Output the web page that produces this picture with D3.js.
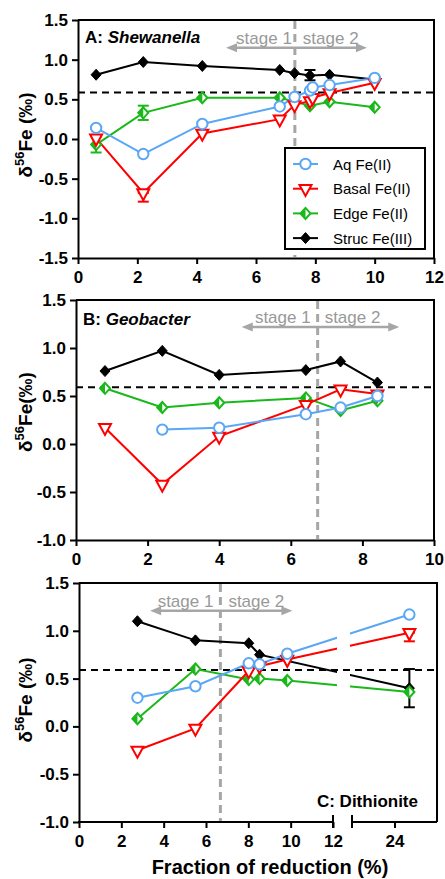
<!DOCTYPE html>
<html><head><meta charset="utf-8">
<script src="https://cdn.jsdelivr.net/npm/d3@7"></script>
<style>body{margin:0;background:#fff} text{font-family:"Liberation Sans",Arial,sans-serif}</style>
</head><body>
<svg id="c" width="445" height="879"></svg>
<script>
// ---------- DATA ----------
const seriesNames = ["Aq Fe(II)", "Basal Fe(II)", "Edge Fe(II)", "Struc Fe(III)"];

// Panel A: Shewanella
const shewAq    = [[0.61,0.14],[2.2,-0.19],[4.19,0.19],[6.8,0.41],[7.3,0.53],[7.82,0.61],[7.91,0.65],[8.48,0.68],[10.0,0.77]];
const shewBasal = [[0.61,0.01],[2.2,-0.68],[4.19,0.07],[6.8,0.25],[7.3,0.43],[7.82,0.48],[7.91,0.52],[8.48,0.58],[10.0,0.71]];
const shewEdge  = [[0.61,-0.07],[2.2,0.33],[4.19,0.52],[6.8,0.52],[7.82,0.42],[8.48,0.47],[10.0,0.40]];
const shewStruc = [[0.61,0.81],[2.2,0.97],[4.19,0.92],[6.8,0.87],[7.3,0.83],[7.82,0.80],[8.48,0.81],[10.0,0.75]];
const shewErrBasal = [[2.2,-0.79,-0.68]];
const shewErrEdge  = [[0.61,-0.17,0.03],[2.2,0.24,0.42]];
const shewErrStruc = [[7.82,0.74,0.87]];

// Panel B: Geobacter
const geoAq    = [[2.41,0.15],[4.0,0.17],[6.42,0.31],[7.39,0.38],[8.42,0.50]];
const geoBasal = [[0.81,0.17],[2.41,-0.42],[4.0,0.08],[6.42,0.41],[7.39,0.57],[8.42,0.52]];
const geoEdge  = [[0.81,0.58],[2.41,0.38],[4.0,0.43],[6.42,0.48],[7.39,0.35],[8.42,0.45]];
const geoStruc = [[0.81,0.76],[2.41,0.97],[4.0,0.72],[6.42,0.77],[7.39,0.86],[8.42,0.64]];

// Panel C: Dithionite
const dithAq    = [[2.76,0.30],[5.5,0.42],[8.02,0.66],[8.53,0.65],[9.84,0.76],[24.7,1.17]];
const dithBasal = [[2.76,-0.25],[5.5,-0.02],[8.02,0.58],[8.53,0.63],[9.84,0.70],[24.7,0.98]];
const dithEdge  = [[2.76,0.08],[5.5,0.60],[8.02,0.49],[8.53,0.50],[9.84,0.48],[24.7,0.36]];
const dithStruc = [[2.76,1.10],[5.5,0.90],[8.02,0.87],[8.53,0.75],[24.7,0.40]];
const dithErrBasal = [[24.7,0.89,0.98]];
const dithErrStruc = [[24.7,0.20,0.60]];

const xTicksA = [0,2,4,6,8,10,12];
const xTicksB = [0,2,4,6,8,10];
const xTicksC = [0,2,4,6,8,10,12,24];
const yTicksA = [-1.5,-1.0,-0.5,0.0,0.5,1.0,1.5];
const yTicksBC = [-1.0,-0.5,0.0,0.5,1.0,1.5];

const refLine = [0.585, 0.59, 0.59];      // horizontal dashed reference per panel
const stageSplit = [7.31, 6.75, 6.68];    // vertical gray dashed line
const stageArrow = [[4.99,9.74,1.15],[4.63,9.03,1.22],[3.36,10.08,1.21]];

// ---------- STYLE ----------
const COL = {aq:"#5aa7f5", basal:"#ff0000", edge:"#1ab81a", struc:"#000000"};
const GRAY = "#a6a6a6";
const svg = d3.select("#c");
const FONT = '"Liberation Sans",Arial,sans-serif';

function marker(g, type, cx, cy) {
  if (type === "aq") {
    g.append("circle").attr("cx",cx).attr("cy",cy).attr("r",5.2)
      .attr("fill","#fff").attr("stroke",COL.aq).attr("stroke-width",2);
  } else if (type === "basal") {
    const h = 11, w = 12;
    g.append("path").attr("d",`M${cx-w/2},${cy-h/3}L${cx+w/2},${cy-h/3}L${cx},${cy+2*h/3}Z`)
      .attr("fill","#fff").attr("stroke",COL.basal).attr("stroke-width",2).attr("stroke-linejoin","miter");
  } else if (type === "edge") {
    const a = 5, b = 5.5;
    g.append("path").attr("d",`M${cx},${cy-b}L${cx+a},${cy}L${cx},${cy+b}L${cx-a},${cy}Z`)
      .attr("fill","#fff").attr("stroke",COL.edge).attr("stroke-width",2);
    g.append("path").attr("d",`M${cx},${cy-b}L${cx},${cy+b}L${cx-a},${cy}Z`).attr("fill",COL.edge);
  } else {
    const a = 5, b = 5.5;
    g.append("path").attr("d",`M${cx},${cy-b}L${cx+a},${cy}L${cx},${cy+b}L${cx-a},${cy}Z`)
      .attr("fill",COL.struc).attr("stroke",COL.struc).attr("stroke-width",1);
  }
}

function errBars(g, data, x, y, color) {
  data.forEach(([xv, lo, hi]) => {
    const px = x(xv);
    g.append("line").attr("x1",px).attr("x2",px).attr("y1",y(lo)).attr("y2",y(hi))
      .attr("stroke",color).attr("stroke-width",2);
    [lo, hi].forEach(v => g.append("line").attr("x1",px-5.5).attr("x2",px+5.5)
      .attr("y1",y(v)).attr("y2",y(v)).attr("stroke",color).attr("stroke-width",2));
  });
}

function styleAxis(ax) {
  ax.selectAll("path").attr("stroke","#000").attr("stroke-width",2);
  ax.selectAll("line").attr("stroke","#000").attr("stroke-width",2);
  ax.selectAll("text").attr("font-family",FONT).attr("font-size",17).attr("font-weight","bold").attr("fill","#000");
}

function drawPanel(cfg, idx) {
  const {L,R,T,B,x,yDom,yTicks,xTicks,series,errs,broken} = cfg;
  const y = d3.scaleLinear().domain(yDom).range([B,T]);
  const g = svg.append("g");

  // frame top/right
  g.append("line").attr("x1",L).attr("x2",R+1).attr("y1",T).attr("y2",T).attr("stroke","#000").attr("stroke-width",2);
  g.append("line").attr("x1",R).attr("x2",R).attr("y1",T).attr("y2",B).attr("stroke","#000").attr("stroke-width",2);

  // y axis
  const ay = g.append("g").attr("transform",`translate(${L},0)`)
    .call(d3.axisLeft(y).tickValues(yTicks).tickFormat(d=>d.toFixed(1)).tickSize(6).tickPadding(4).tickSizeOuter(0));
  styleAxis(ay);

  // x axis
  const ax = g.append("g").attr("transform",`translate(0,${B})`)
    .call(d3.axisBottom(x).tickValues(xTicks).tickFormat(d=>d).tickSize(6).tickPadding(7).tickSizeOuter(0));
  styleAxis(ax);
  if (broken) {
    ax.select(".domain").remove();
    const [d0,d1,d2,d3v] = x.domain();
    [[d0,d1],[d2,d3v]].forEach(([a,b]) => {
      g.append("line").attr("x1",x(a)-1).attr("x2",x(b)).attr("y1",B).attr("y2",B).attr("stroke","#000").attr("stroke-width",2);
    });
    [d1,d2].forEach(v => g.append("line").attr("x1",x(v)).attr("x2",x(v)).attr("y1",B-7).attr("y2",B+6)
      .attr("stroke","#000").attr("stroke-width",2));
  }

  // reference lines
  g.append("line").attr("x1",L).attr("x2",R).attr("y1",y(refLine[idx])).attr("y2",y(refLine[idx]))
    .attr("stroke","#000").attr("stroke-width",2).attr("stroke-dasharray","7,5");
  g.append("line").attr("x1",x(stageSplit[idx])).attr("x2",x(stageSplit[idx])).attr("y1",T+1).attr("y2",B-1)
    .attr("stroke",GRAY).attr("stroke-width",3).attr("stroke-dasharray","8,5");

  // stage arrows
  const [s0,s1,sy] = stageArrow[idx];
  const ax0 = x(s0), ax1 = x(s1), ayp = y(sy), hl = 11, hw = 4.5;
  g.append("line").attr("x1",ax0+hl-1).attr("x2",ax1-hl+1).attr("y1",ayp).attr("y2",ayp).attr("stroke",GRAY).attr("stroke-width",2.5);
  g.append("path").attr("d",`M${ax0},${ayp}L${ax0+hl},${ayp-hw}L${ax0+hl},${ayp+hw}Z`).attr("fill",GRAY);
  g.append("path").attr("d",`M${ax1},${ayp}L${ax1-hl},${ayp-hw}L${ax1-hl},${ayp+hw}Z`).attr("fill",GRAY);
  const xs = x(stageSplit[idx]);
  g.append("text").attr("x",xs-cfg.gap[0]).attr("y",ayp-4).attr("text-anchor","end")
    .attr("font-size",17).attr("fill","#999").text("stage 1");
  g.append("text").attr("x",xs+cfg.gap[1]).attr("y",ayp-4).attr("text-anchor","start")
    .attr("font-size",17).attr("fill","#999").text("stage 2");

  // lines
  let lineG = g.append("g");
  if (broken) {
    const cid = "clipC";
    const cp = svg.append("defs").append("clipPath").attr("id",cid);
    cp.append("rect").attr("x",L).attr("y",T).attr("width",337-L).attr("height",B-T);
    cp.append("rect").attr("x",350).attr("y",T).attr("width",R-350).attr("height",B-T);
    lineG.attr("clip-path",`url(#${cid})`);
  }
  const line = d3.line().x(d=>x(d[0])).y(d=>y(d[1]));
  const order = ["struc","edge","basal","aq"];
  order.forEach(k => {
    lineG.append("path").datum(series[k]).attr("d",line).attr("fill","none")
      .attr("stroke",COL[k]).attr("stroke-width",2);
  });
  const mg = g.append("g");
  order.forEach(k => {
    if (errs[k]) errBars(mg, errs[k], x, y, COL[k]);
    series[k].forEach(d => marker(mg, k, x(d[0]), y(d[1])));
  });

  // y label
  const yl = g.append("text").attr("transform",`translate(${cfg.ylx},${cfg.yly}) rotate(-90)`)
    .attr("text-anchor","middle").attr("font-weight","bold").attr("font-size",19).attr("fill","#000");
  yl.append("tspan").text("δ");
  yl.append("tspan").attr("font-size",13).attr("dy",-8).text("56");
  yl.append("tspan").attr("dy",8).text(cfg.ylabel);
  return {x,y};
}

const xA = d3.scaleLinear().domain([0,12]).range([78,434]);
drawPanel({L:78,R:434,T:20,B:258,x:xA,yDom:[-1.5,1.5],yTicks:yTicksA,xTicks:xTicksA,
  series:{aq:shewAq,basal:shewBasal,edge:shewEdge,struc:shewStruc},
  errs:{basal:shewErrBasal,edge:shewErrEdge,struc:shewErrStruc},gap:[3,8],
  ylx:32,yly:135,ylabel:"Fe (‰)"},0);

const xB = d3.scaleLinear().domain([0,10]).range([76,434]);
drawPanel({L:76,R:434,T:300,B:540,x:xB,yDom:[-1.0,1.5],yTicks:yTicksBC,xTicks:xTicksB,
  series:{aq:geoAq,basal:geoBasal,edge:geoEdge,struc:geoStruc},
  errs:{},gap:[7,7],ylx:32,yly:412,ylabel:"Fe(‰)"},1);

const xC = d3.scaleLinear().domain([0,12,22,26]).range([79,333,352,437]);
drawPanel({L:79,R:437,T:583,B:822,x:xC,yDom:[-1.0,1.5],yTicks:yTicksBC,xTicks:xTicksC,broken:true,
  series:{aq:dithAq,basal:dithBasal,edge:dithEdge,struc:dithStruc},
  errs:{basal:dithErrBasal,struc:dithErrStruc},gap:[7,8],ylx:32,yly:700,ylabel:"Fe (‰)"},2);

// panel titles
const tA = svg.append("text").attr("x",85).attr("y",43).attr("font-size",17).attr("font-weight","bold");
tA.append("tspan").text("A: "); tA.append("tspan").attr("font-style","italic").text("Shewanella");
const tB = svg.append("text").attr("x",83).attr("y",325).attr("font-size",17).attr("font-weight","bold");
tB.append("tspan").text("B: "); tB.append("tspan").attr("font-style","italic").text("Geobacter");
svg.append("text").attr("x",418).attr("y",807).attr("text-anchor","end").attr("font-size",17)
  .attr("font-weight","bold").text("C: Dithionite");

// x label
svg.append("text").attr("x",270).attr("y",874).attr("text-anchor","middle").attr("font-size",20)
  .attr("font-weight","bold").text("Fraction of reduction (%)");

// legend (panel A)
const lg = svg.append("g");
lg.append("rect").attr("x",285).attr("y",148).attr("width",140).attr("height",101)
  .attr("fill","#fff").attr("stroke","#000").attr("stroke-width",2);
const legKeys = ["aq","basal","edge","struc"];
legKeys.forEach((k,i) => {
  const cy = 164 + i*24.7;
  lg.append("line").attr("x1",293).attr("x2",318).attr("y1",cy).attr("y2",cy).attr("stroke",COL[k]).attr("stroke-width",2);
  marker(lg, k, 305.5, cy);
  lg.append("text").attr("x",333).attr("y",cy+5.5).attr("font-size",15).attr("fill","#000").text(seriesNames[i]);
});
</script>
</body></html>
